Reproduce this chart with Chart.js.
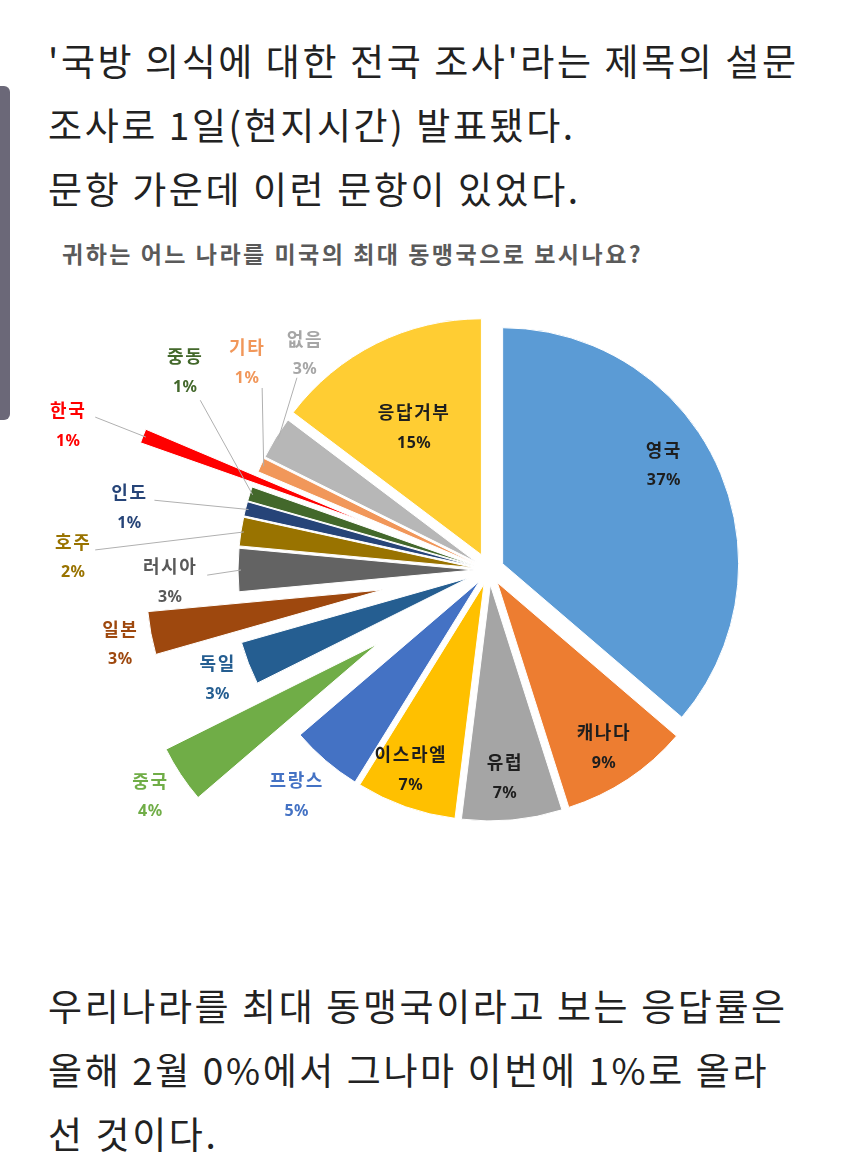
<!DOCTYPE html>
<html>
<head>
<meta charset="utf-8">
<script src="https://cdn.jsdelivr.net/npm/chart.js@4.4.1/dist/chart.umd.min.js"></script>
<style>
  html, body { margin: 0; padding: 0; background: #ffffff; width: 850px; height: 1154px; overflow: hidden; }
  .txt { position: absolute; left: 48px; font-family: "Noto Sans CJK KR", "Noto Sans", sans-serif; font-size: 37px; font-weight: 400; letter-spacing: 2.6px; color: #222222; line-height: 64px; white-space: nowrap; }
  #ctitle { position: absolute; left: 62px; top: 238px; font-family: "Noto Sans CJK KR", sans-serif; font-weight: 700; font-size: 23px; letter-spacing: 2.5px; color: #5a5a5a; white-space: nowrap; line-height: 30px; }
  #bar { position: absolute; left: 0; top: 86px; width: 10px; height: 334px; background: #6b6878; border-radius: 0 6px 6px 0; }
  #wrap { position: absolute; left: 0; top: 280px; width: 850px; height: 580px; }
</style>
</head>
<body>
<div class="txt" style="top:28px">'국방 의식에 대한 전국 조사'라는 제목의 설문<br>조사로 1일(현지시간) 발표됐다.<br>문항 가운데 이런 문항이 있었다.</div>
<div id="bar"></div>
<div id="ctitle">귀하는 어느 나라를 미국의 최대 동맹국으로 보시나요?</div>
<div id="wrap"><canvas id="c" width="850" height="580"></canvas></div>
<div class="txt" style="top:973px">우리나라를 최대 동맹국이라고 보는 응답률은<br>올해 2월 0%에서 그나마 이번에 1%로 올라<br>선 것이다.</div>

<script>
// ---------------- data ----------------
const categories = ['영국','캐나다','유럽','이스라엘','프랑스','중국','독일','일본','러시아','호주','인도','중동','한국','기타','없음','응답거부'];
const shares     = [37, 9, 7, 7, 5, 4, 3, 3, 3, 2, 1, 1, 1, 1, 3, 15];

// ---------------- styles ----------------
const sliceColors = ['#5B9BD5','#ED7D31','#A5A5A5','#FFC000','#4472C4','#70AD47','#255E91','#9E480E',
                     '#636363','#997300','#264478','#43682B','#FF0000','#F1975A','#B7B7B7','#FFCD33'];
const explode     = [15, 15, 15, 15, 15, 134, 22, 108, 15, 15, 15, 15, 135, 15, 15, 17];
const labelColors = ['#1e1e1e','#1e1e1e','#1e1e1e','#1e1e1e','#4472C4','#70AD47','#255E91','#9E480E',
                     '#595959','#997300','#264478','#43682B','#FF0000','#F1975A','#A6A6A6','#1e1e1e'];
// label placement: angle (deg clockwise from 12 o'clock) and distance from pie centre
const labelAngle  = [59, 147, 175.6, 201.4, 220.5, 236.3, 248.3, 258.7, 268, 271.8, 279.9, 303.2, 289, 310.7, 319.6, 332.3];
const labelDist   = [204, 211, 208, 214, 296, 407, 292, 376, 319, 416, 365, 363, 445, 319, 284, 161];
// leader lines: start offset from label centre (dx, dy); null = no leader
const leaderStart = [null,null,null,null,null,null,null,null,[37,-6],[22,-7],[25,-7],[15,29],[27,-8],[15,26],[-8,24],null];

function drawChart() {
  const ArcProto = Chart.ArcElement.prototype;
  ArcProto.draw = function (ctx) {
    const o = this.options;
    const shift = o.offset || 0;
    const sa = this.startAngle, ea = this.endAngle;
    if (!(ea - sa > 0)) return;
    const mid = (sa + ea) / 2;
    const cx = this.x + Math.cos(mid) * shift;
    const cy = this.y + Math.sin(mid) * shift;
    ctx.save();
    ctx.beginPath();
    ctx.moveTo(cx, cy);
    ctx.arc(cx, cy, this.outerRadius, sa, ea);
    ctx.closePath();
    ctx.fillStyle = o.backgroundColor;
    ctx.fill();
    if (o.borderWidth) {
      ctx.lineJoin = 'round';
      ctx.lineWidth = o.borderWidth;
      ctx.strokeStyle = o.borderColor;
      ctx.stroke();
    }
    ctx.restore();
  };

  const labelPlugin = {
    id: 'sliceLabels',
    afterDatasetsDraw(chart) {
      const ctx = chart.ctx;
      const meta = chart.getDatasetMeta(0);
      const ds = chart.data.datasets[0];
      ctx.save();
      meta.data.forEach((arc, i) => {
        const cx = arc.x, cy = arc.y;
        const a = labelAngle[i] * Math.PI / 180;
        const lx = cx + Math.sin(a) * labelDist[i];
        const ly = cy - Math.cos(a) * labelDist[i];
        if (leaderStart[i]) {
          const mid = (arc.startAngle + arc.endAngle) / 2;
          const off = explode[i];
          const vx = cx + Math.cos(mid) * off, vy = cy + Math.sin(mid) * off;
          const r = arc.outerRadius - 3;
          ctx.beginPath();
          ctx.moveTo(lx + leaderStart[i][0], ly + leaderStart[i][1]);
          ctx.lineTo(vx + Math.cos(mid) * r, vy + Math.sin(mid) * r);
          ctx.strokeStyle = '#b0b0b0';
          ctx.lineWidth = 1;
          ctx.stroke();
        }
        ctx.fillStyle = labelColors[i];
        ctx.textAlign = 'center';
        ctx.textBaseline = 'middle';
        ctx.letterSpacing = '1.6px';
        ctx.font = 'bold 18px "Noto Sans CJK KR", sans-serif';
        ctx.fillText(chart.data.labels[i], lx, ly - 15);
        ctx.letterSpacing = '0.5px';
        ctx.font = 'bold 16px "Noto Sans", "Noto Sans CJK KR", sans-serif';
        ctx.fillText(ds.data[i] + '%', lx, ly + 16);
      });
      ctx.restore();
    }
  };

  new Chart(document.getElementById('c'), {
    type: 'pie',
    data: {
      labels: categories,
      datasets: [{
        data: shares,
        backgroundColor: sliceColors,
        borderColor: '#ffffff',
        borderWidth: 1,
        offset: explode,
        clip: false
      }]
    },
    options: {
      responsive: false,
      maintainAspectRatio: false,
      animation: false,
      events: [],
      radius: 236,
      rotation: 0,
      layout: { padding: { left: 128, right: 0, top: 0, bottom: 0 } },
      plugins: {
        legend: { display: false },
        tooltip: { enabled: false },
        title: { display: false }
      }
    },
    plugins: [labelPlugin]
  });
}

if (document.fonts && document.fonts.load) {
  Promise.all([
    document.fonts.load('bold 18px "Noto Sans CJK KR"', '영국'),
    document.fonts.load('bold 16px "Noto Sans"', '37%')
  ]).then(drawChart, drawChart);
} else {
  drawChart();
}
</script>
</body>
</html>
